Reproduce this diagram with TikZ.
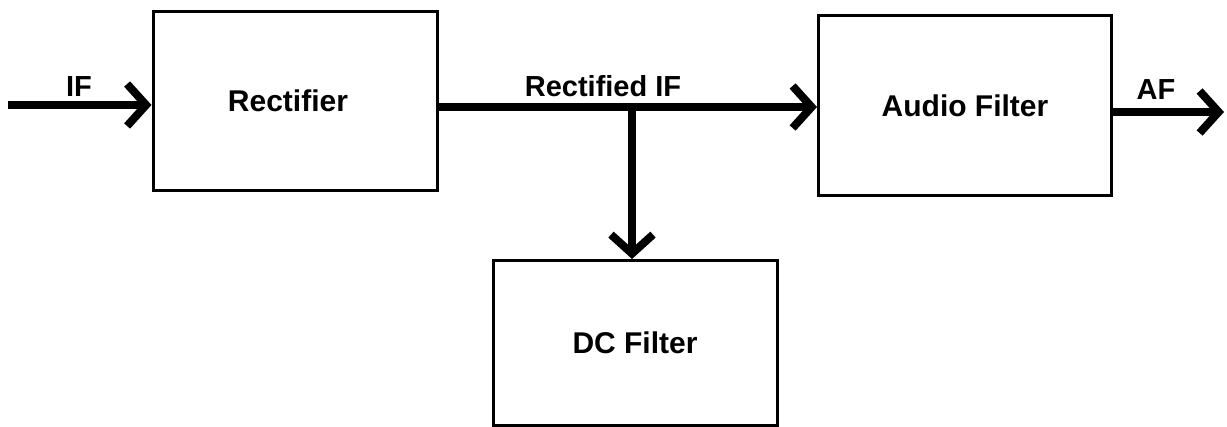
\documentclass[tikz,border=0pt]{standalone}
\usepackage{fontspec}
\setmainfont{Liberation Sans}
\usetikzlibrary{arrows.meta}
\tikzset{
  blockbox/.style={draw, line width=3pt, rectangle, inner sep=0pt, font=\bfseries\fontsize{30}{32}\selectfont},
  sig/.style={line width=8pt, -{Straight Barb[length=19pt,width=42pt]}},
  lbl/.style={anchor=base, inner sep=0pt, font=\bfseries\fontsize{29}{31}\selectfont}
}
\begin{document}
\begin{tikzpicture}[x=1pt,y=-1pt]
\fill[white] (0,0) rectangle (1227,427);
\useasboundingbox (0,0) rectangle (1227,427);
\node[blockbox, minimum width=284pt, minimum height=179pt] (rect) at (295,101) {\hspace{-14pt}Rectifier};
\node[blockbox, minimum width=293pt, minimum height=180pt] (audio) at (965,106) {Audio Filter};
\node[blockbox, minimum width=284pt, minimum height=165pt] (dc) at (635,343) {DC Filter};
\coordinate (in) at (8,105);
\coordinate (out) at (1224,112);
\coordinate (branch) at (632,107);
\draw[sig] (in) -- (in -| rect.west);
\draw[sig] (branch -| rect.east) -- (branch -| audio.west);
\draw[sig] (branch) -- (branch |- dc.north);
\draw[sig] (out -| audio.east) -- (out);
\node[lbl] (lif) at (79,97) {IF};
\node[lbl] (lrif) at (603,97) {Rectified IF};
\node[lbl] (laf) at (1156,100) {AF};
\end{tikzpicture}
\end{document}
